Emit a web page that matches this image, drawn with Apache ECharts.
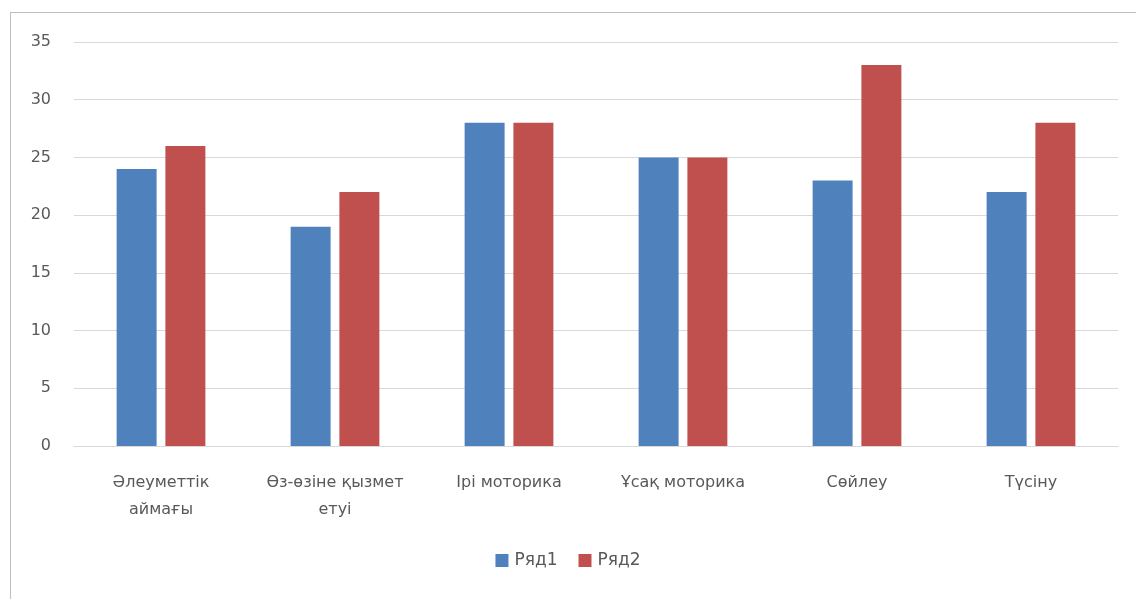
<!DOCTYPE html>
<html><head><meta charset="utf-8">
<script src="https://cdn.jsdelivr.net/npm/echarts@6/dist/echarts.min.js"></script>
<style>
html,body{margin:0;padding:0;background:#fff;}
#frame{position:absolute;left:10px;top:12px;width:1140px;height:600px;border:1px solid #bfbfbf;box-sizing:border-box;}
#c{position:absolute;left:0;top:0;width:1136px;height:599px;}
</style></head>
<body>
<div id="frame"></div>
<div id="c"></div>
<script>
const categories = ["Әлеуметтік\nаймағы", "Өз-өзіне қызмет\nетуі", "Ірі моторика", "Ұсақ моторика", "Сөйлеу", "Түсіну"];
const seriesNames = ["Ряд1", "Ряд2"];
const series1 = [24, 19, 28, 25, 23, 22];
const series2 = [26, 22, 28, 25, 33, 28];
const yTicks = {min: 0, max: 35, interval: 5};

const font = "'DejaVu Sans', sans-serif";
const chart = echarts.init(document.getElementById('c'), null, {renderer: 'canvas'});
chart.setOption({
  animation: false,
  backgroundColor: 'transparent',
  color: ['#4f81bd', '#c0504d'],
  grid: {left: 74, right: 18, top: 42, bottom: 153, containLabel: false},
  legend: {
    bottom: 25, left: 'center', itemWidth: 13, itemHeight: 13, itemGap: 21,
    icon: 'rect',
    textStyle: {color: '#595959', fontSize: 17, fontFamily: font, padding: [0, 0, 0, 1]},
    data: seriesNames
  },
  xAxis: {
    type: 'category', data: categories,
    axisLine: {lineStyle: {color: '#d9d9d9', width: 1}},
    axisTick: {show: false},
    axisLabel: {color: '#595959', fontSize: 16, fontFamily: font, margin: 23, lineHeight: 27, interval: 0}
  },
  yAxis: {
    type: 'value', min: yTicks.min, max: yTicks.max, interval: yTicks.interval,
    axisLine: {show: false}, axisTick: {show: false},
    splitLine: {lineStyle: {color: '#d9d9d9', width: 1}},
    axisLabel: {color: '#595959', fontSize: 16, fontFamily: font, margin: 23}
  },
  series: [
    {name: seriesNames[0], type: 'bar', data: series1, barGap: '22%', barCategoryGap: '49%'},
    {name: seriesNames[1], type: 'bar', data: series2, barGap: '22%', barCategoryGap: '49%'}
  ]
});
</script>
</body></html>
